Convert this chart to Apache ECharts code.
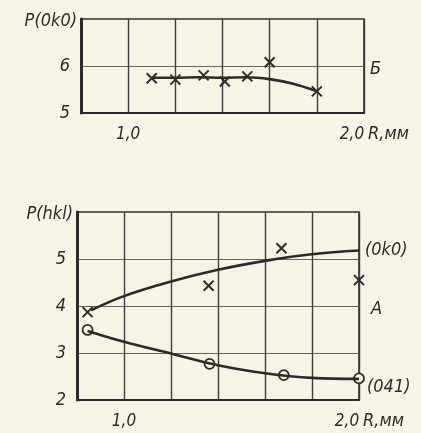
<!DOCTYPE html>
<html>
<head>
<meta charset="utf-8">
<script src="https://cdn.jsdelivr.net/npm/echarts@6/dist/echarts.min.js"></script>
<style>
html,body{margin:0;padding:0;background:#f7f4e6;}
#c{width:421px;height:433px;}
</style>
</head>
<body>
<div id="c"></div>
<script>
// Panel Б (top): P(0k0) vs R
var topMarkR = [1.1, 1.2, 1.32, 1.41, 1.505, 1.6, 1.8];
var topMarkP = [5.74, 5.71, 5.80, 5.67, 5.78, 6.08, 5.46];
var topCurveR = [1.1, 1.2, 1.3, 1.4, 1.5, 1.6, 1.7, 1.8];
var topCurveP = [5.75, 5.75, 5.76, 5.75, 5.76, 5.72, 5.62, 5.46];

// Panel A (bottom): P(hkl) vs R
var okoMarkR = [0.845, 1.36, 1.67, 2.0];
var okoMarkP = [3.87, 4.43, 5.23, 4.55];
var okoCurveR = [0.86, 1.0, 1.2, 1.4, 1.6, 1.8, 2.0];
var okoCurveP = [3.91, 4.21, 4.52, 4.77, 4.96, 5.10, 5.18];

var o41MarkR = [0.845, 1.364, 1.68, 2.0];
var o41MarkP = [3.49, 2.77, 2.53, 2.46];
var o41CurveR = [0.845, 1.0, 1.2, 1.4, 1.6, 1.8, 2.0];
var o41CurveP = [3.47, 3.24, 2.99, 2.74, 2.57, 2.47, 2.45];

var xTicks = {1: '1,0', 2: '2,0'};
var topYTicks = {5: '5', 6: '6'};
var botYTicks = {2: '2', 3: '3', 4: '4', 5: '5'};

function pairs(a, b) { return a.map(function (v, i) { return [v, b[i]]; }); }

var FONT = '"DejaVu Sans Condensed", "Liberation Sans Narrow", "DejaVu Sans", sans-serif';
var INK = '#2b2b2b';
var CROSS = 'path://M0,0 L10,10 M10,0 L0,10';

function xAxisDef(idx) {
  return {
    type: 'value', gridIndex: idx, min: 0.8, max: 2.0, interval: 0.2,
    axisLine: {show: true, lineStyle: {color: INK, width: 2}},
    axisTick: {show: false},
    splitLine: {show: true, lineStyle: {color: '#3d3d3d', width: 1.4}},
    axisLabel: {
      margin: 13, color: INK, fontFamily: FONT, fontStyle: 'italic', fontSize: 17,
      formatter: function (v) {
        var k = Math.round(v * 10) / 10;
        if (k === 2) return '{r|' + xTicks[2] + '}';
        return xTicks[k] || '';
      },
      rich: {r: {padding: [0, 24, 0, 0], color: INK, fontFamily: FONT, fontStyle: 'italic', fontSize: 17}}
    },
    name: 'R,мм', nameLocation: 'end', nameGap: 4,
    nameTextStyle: {color: INK, fontFamily: FONT, fontStyle: 'italic', fontSize: 18,
      align: 'left', verticalAlign: 'top', padding: [12, 0, 0, 0]}
  };
}
function yAxisDef(idx, min, max, ticks, name) {
  return {
    type: 'value', gridIndex: idx, min: min, max: max, interval: 1,
    axisLine: {show: true, lineStyle: {color: INK, width: 3}},
    axisTick: {show: false},
    splitLine: {show: true, lineStyle: {color: '#5b6b5b', width: 1}},
    axisLabel: {margin: 11, color: INK, fontFamily: FONT, fontStyle: 'italic', fontSize: 18,
      formatter: function (v) { return ticks[v] || ''; }},
    name: name, nameLocation: 'end', nameGap: -2,
    nameTextStyle: {color: INK, fontFamily: FONT, fontStyle: 'italic', fontSize: 18,
      align: 'right', verticalAlign: 'middle', padding: [0, 4, 0, 0]}
  };
}
var lineStyle = {color: INK, width: 2.6};
var crossStyle = {color: 'none', borderColor: INK, borderWidth: 2, opacity: 1};
var chart = echarts.init(document.getElementById('c'), null, {renderer: 'canvas'});
chart.setOption({
  backgroundColor: '#f7f4e6',
  animation: false,
  grid: [
    {left: 81, top: 19, width: 283, height: 94, show: true, borderColor: INK, borderWidth: 1.6, backgroundColor: 'transparent'},
    {left: 77, top: 212, width: 282, height: 188, show: true, borderColor: INK, borderWidth: 1.6, backgroundColor: 'transparent'}
  ],
  xAxis: [xAxisDef(0), xAxisDef(1)],
  yAxis: [yAxisDef(0, 5, 7, topYTicks, 'P(0k0)'), yAxisDef(1, 2, 6, botYTicks, 'P(hkl)')],
  series: [
    {type: 'line', xAxisIndex: 0, yAxisIndex: 0, data: pairs(topCurveR, topCurveP), smooth: 0.4,
      showSymbol: false, lineStyle: lineStyle},
    {type: 'scatter', xAxisIndex: 0, yAxisIndex: 0, data: pairs(topMarkR, topMarkP), symbol: CROSS,
      symbolSize: 10, itemStyle: crossStyle},
    {type: 'line', xAxisIndex: 1, yAxisIndex: 1, data: pairs(okoCurveR, okoCurveP), smooth: 0.4,
      showSymbol: false, lineStyle: lineStyle,
      endLabel: {show: true, formatter: '(0k0)', distance: 6, color: INK, fontFamily: FONT, fontStyle: 'italic', fontSize: 18}},
    {type: 'scatter', xAxisIndex: 1, yAxisIndex: 1, data: pairs(okoMarkR, okoMarkP), symbol: CROSS,
      symbolSize: 10, itemStyle: crossStyle},
    {type: 'line', xAxisIndex: 1, yAxisIndex: 1, data: pairs(o41CurveR, o41CurveP), smooth: 0.4,
      showSymbol: false, lineStyle: lineStyle,
      endLabel: {show: true, formatter: '(041)', distance: 8, offset: [0, 8], color: INK, fontFamily: FONT, fontStyle: 'italic', fontSize: 18}},
    {type: 'scatter', xAxisIndex: 1, yAxisIndex: 1, data: pairs(o41MarkR, o41MarkP), symbol: 'circle',
      symbolSize: 10, itemStyle: {color: '#f7f4e6', borderColor: INK, borderWidth: 1.8, opacity: 1}}
  ],
  graphic: [
    {type: 'text', left: 370, top: 60, style: {text: 'Б', fill: INK, font: 'italic 18px ' + FONT}},
    {type: 'text', left: 371, top: 300, style: {text: 'A', fill: INK, font: 'italic 18px ' + FONT}}
  ]
});
</script>
</body>
</html>
